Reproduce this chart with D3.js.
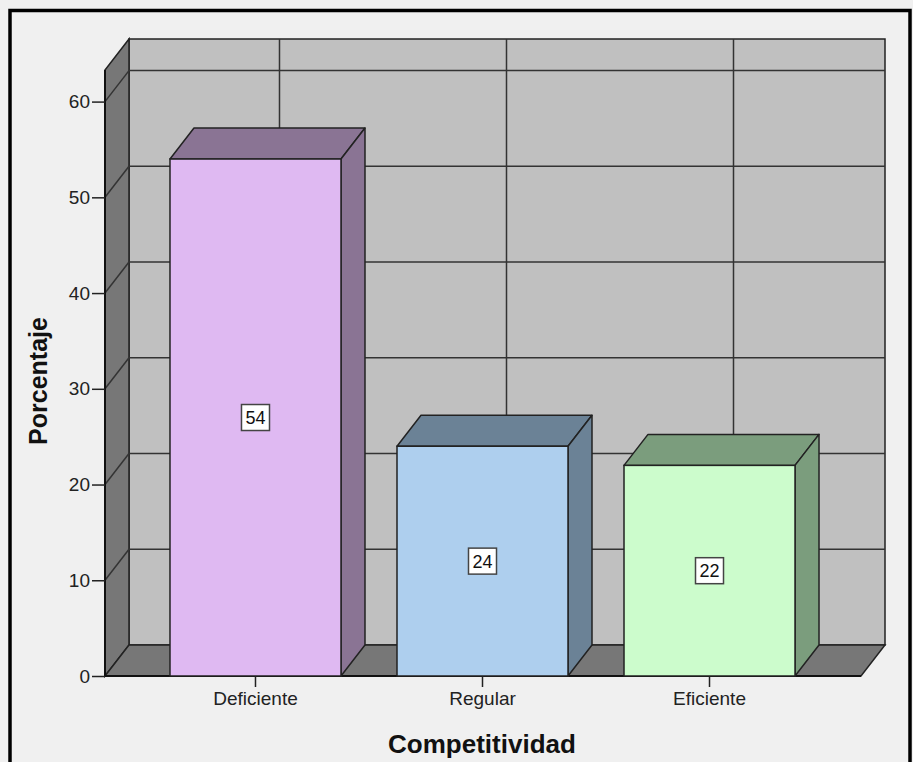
<!DOCTYPE html>
<html>
<head>
<meta charset="utf-8">
<script src="https://cdn.jsdelivr.net/npm/d3@7"></script>
<style>
  html, body { margin: 0; padding: 0; background: #f0f0f0; }
  svg { display: block; }
  text { font-family: "Liberation Sans", Arial, sans-serif; }
</style>
</head>
<body>
<script>
// ---- data ----
const categories = ["Deficiente", "Regular", "Eficiente"];
const values = [54, 24, 22];
const valueLabels = ["54", "24", "22"];
const yTicks = [0, 10, 20, 30, 40, 50, 60];
const frontColors = ["#dfb9f2", "#aecfee", "#ccfccc"];
const darkColors = ["#8a7494", "#6b8296", "#7b9d7d"];
const xTitle = "Competitividad";
const yTitle = "Porcentaje";

// ---- layout ----
const W = 913, H = 762;
const x0 = 105, x1 = 861;     // front plot extent
const dx = 24, dy = -31;      // depth offset
const yMax = 63.3;

const svg = d3.select("body").append("svg").attr("width", W).attr("height", H);
svg.append("rect").attr("width", W).attr("height", H).attr("fill", "#f0f0f0");

const y = d3.scaleLinear().domain([0, yMax]).range([676, 70]);
const x = d3.scaleBand().domain(categories).range([142, 823])
  .paddingInner(0.2467).paddingOuter(0.1233);

const wallStroke = "#222";
const gridColor = "#333";

// back wall
svg.append("rect")
  .attr("x", x0 + dx).attr("y", y(yMax) + dy)
  .attr("width", x1 - x0).attr("height", y(0) - y(yMax))
  .attr("fill", "#c0c0c0").attr("stroke", wallStroke).attr("stroke-width", 1.5);

// left wall
svg.append("polygon")
  .attr("points", [[x0, y(0)], [x0, y(yMax)], [x0 + dx, y(yMax) + dy], [x0 + dx, y(0) + dy]].map(p => p.join(",")).join(" "))
  .attr("fill", "#777").attr("stroke", wallStroke).attr("stroke-width", 1.5);

// floor
svg.append("polygon")
  .attr("points", [[x0, y(0)], [x0 + dx, y(0) + dy], [x1 + dx, y(0) + dy], [x1, y(0)]].map(p => p.join(",")).join(" "))
  .attr("fill", "#777").attr("stroke", wallStroke).attr("stroke-width", 1.5);

// gridlines (back wall horizontal + left wall diagonals)
const gridVals = yTicks.filter(v => v > 0);
svg.append("g").selectAll("line").data(gridVals).join("line")
  .attr("x1", x0 + dx).attr("x2", x1 + dx)
  .attr("y1", d => y(d) + dy).attr("y2", d => y(d) + dy)
  .attr("stroke", gridColor).attr("stroke-width", 1.5);
svg.append("g").selectAll("line").data(gridVals).join("line")
  .attr("x1", x0).attr("x2", x0 + dx)
  .attr("y1", d => y(d)).attr("y2", d => y(d) + dy)
  .attr("stroke", gridColor).attr("stroke-width", 1.5);
// vertical gridlines on back wall
svg.append("g").selectAll("line").data(categories).join("line")
  .attr("x1", d => x(d) + x.bandwidth() / 2 + dx).attr("x2", d => x(d) + x.bandwidth() / 2 + dx)
  .attr("y1", y(yMax) + dy).attr("y2", y(0) + dy)
  .attr("stroke", gridColor).attr("stroke-width", 1.5);

// front edges
svg.append("line").attr("x1", x0).attr("x2", x1).attr("y1", y(0)).attr("y2", y(0))
  .attr("stroke", "#111").attr("stroke-width", 2);
svg.append("line").attr("x1", x0).attr("x2", x0).attr("y1", y(0)).attr("y2", y(yMax))
  .attr("stroke", "#111").attr("stroke-width", 2);

// y axis
const yAxis = svg.append("g").attr("transform", `translate(${x0},0)`)
  .call(d3.axisLeft(y).tickValues(yTicks).tickSize(13).tickPadding(2).tickFormat(d3.format("d")));
yAxis.select(".domain").remove();
yAxis.selectAll(".tick line").attr("stroke", "#222").attr("stroke-width", 1.5);
yAxis.selectAll(".tick text").attr("fill", "#222").style("font-size", "19px")
  .style("font-family", "'Liberation Sans', Arial, sans-serif");

// x axis
const xAxis = svg.append("g").attr("transform", `translate(0,${y(0)})`)
  .call(d3.axisBottom(x).tickSize(11).tickPadding(5));
xAxis.select(".domain").remove();
xAxis.selectAll(".tick line").attr("stroke", "#222").attr("stroke-width", 1.5);
xAxis.selectAll(".tick text").attr("fill", "#222").style("font-size", "19px")
  .style("font-family", "'Liberation Sans', Arial, sans-serif");

// bars
const data = categories.map((c, i) => ({ c, v: values[i], f: frontColors[i], d: darkColors[i], lab: valueLabels[i] }));
const bars = svg.append("g").selectAll("g").data(data).join("g");
const pts = arr => arr.map(p => p.join(",")).join(" ");
bars.append("polygon") // top
  .attr("points", d => {
    const l = x(d.c), r = l + x.bandwidth(), t = y(d.v);
    return pts([[l, t], [l + dx, t + dy], [r + dx, t + dy], [r, t]]);
  })
  .attr("fill", d => d.d).attr("stroke", "#222").attr("stroke-width", 1.5).attr("stroke-linejoin", "round");
bars.append("polygon") // side
  .attr("points", d => {
    const r = x(d.c) + x.bandwidth(), t = y(d.v), b = y(0);
    return pts([[r, t], [r + dx, t + dy], [r + dx, b + dy], [r, b]]);
  })
  .attr("fill", d => d.d).attr("stroke", "#222").attr("stroke-width", 1.5).attr("stroke-linejoin", "round");
bars.append("rect") // front
  .attr("x", d => x(d.c)).attr("y", d => y(d.v))
  .attr("width", x.bandwidth()).attr("height", d => y(0) - y(d.v))
  .attr("fill", d => d.f).attr("stroke", "#222").attr("stroke-width", 1.5);

// value labels
const lab = bars.append("g")
  .attr("transform", d => `translate(${x(d.c) + x.bandwidth() / 2},${y(d.v / 2)})`);
lab.append("rect").attr("x", -14).attr("y", -13).attr("width", 28).attr("height", 26)
  .attr("fill", "#fff").attr("stroke", "#444").attr("stroke-width", 1.5);
lab.append("text").attr("text-anchor", "middle").attr("dy", "0.36em")
  .attr("fill", "#111").style("font-size", "18px").text(d => d.lab);

// titles
svg.append("text").attr("x", 482).attr("y", 753).attr("text-anchor", "middle")
  .attr("fill", "#111").style("font-size", "26px").style("font-weight", "bold").text(xTitle);
svg.append("text").attr("transform", "translate(47,381) rotate(-90)").attr("text-anchor", "middle")
  .attr("fill", "#111").style("font-size", "25px").style("font-weight", "bold").text(yTitle);

// frame
svg.append("rect").attr("x", 10).attr("y", 10.5).attr("width", 900).attr("height", 800)
  .attr("fill", "none").attr("stroke", "#000").attr("stroke-width", 3.5);
</script>
</body>
</html>
